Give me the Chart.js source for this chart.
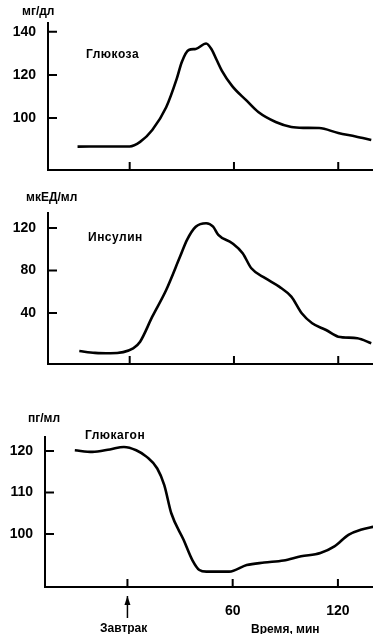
<!DOCTYPE html>
<html>
<head>
<meta charset="UTF-8" />
<title>Глюкоза, инсулин, глюкагон</title>
<script src="https://cdn.jsdelivr.net/npm/chart.js@4.4.1/dist/chart.umd.min.js"></script>
<style>
  body { margin:0; background:#fff; }
  #wrap { position:relative; width:373px; height:634px; overflow:hidden; font-family:"Liberation Sans", Arial, sans-serif; color:#000; }
  canvas { position:absolute; left:0; }
  .lbl { position:absolute; font-weight:bold; font-size:12px; white-space:nowrap; line-height:1; }
  .name { letter-spacing:0.5px; }
</style>
</head>
<body>
<div id="wrap">
  <canvas id="c1" width="373" height="190" style="top:0"></canvas>
  <canvas id="c2" width="373" height="190" style="top:190px"></canvas>
  <canvas id="c3" width="373" height="244" style="top:390px"></canvas>

  <div class="lbl" style="left:22px;top:5px">мг/дл</div>
  <div class="lbl" style="left:26px;top:191px">мкЕД/мл</div>
  <div class="lbl" style="left:28px;top:412px">пг/мл</div>

  <div class="lbl name" style="left:86px;top:48px">Глюкоза</div>
  <div class="lbl name" style="left:88px;top:231px">Инсулин</div>
  <div class="lbl name" style="left:85px;top:429px">Глюкагон</div>

  <div class="lbl" style="left:100px;top:622px">Завтрак</div>
  <div class="lbl" style="left:251px;top:623px">Время, мин</div>
</div>

<script>
// time, min (0 = breakfast)
const glucoseT = [-30,-10,0,6,13,21,27,30,34,38,44,47,50,53,59,67,74,84,93,100,109,120,130,139];
const glucoseV = [86.8,86.9,86.9,89,94.5,105,118,126,131.5,132,134.5,132,127,122,114.8,108.3,102.8,98.2,95.9,95.5,95.4,93.1,91.5,89.9];

const insulinT = [-29,-20,-11,2,6,13,21,29,33,38,44,48,51,59,65,70,78,86,93,99,105,113,120,131,139];
const insulinV = [4.2,2.5,2.1,6.8,13,36.5,61.6,93,108.7,121,124.4,121.2,113.4,105.6,96.2,82,72.7,64.8,55.3,39.7,30.3,24,17.7,16.2,11.5];

const glucagonT = [-30,-20,-10,-2,5,11,17,21,25,32,37,41,45,58,68,78,89,99,110,118,126,133,141];
const glucagonV = [120.2,119.8,120.4,121,120.2,118.6,115.8,111.8,105,98.6,93.7,91.3,90.9,90.9,92.5,93.1,93.6,94.6,95.4,97,99.8,101,101.8];

const xTicks = [0, 60, 120];
const xLabels = [60, 120];
const glucoseTicks = [100, 120, 140];
const insulinTicks = [40, 80, 120];
const glucagonTicks = [100, 110, 120];

const tickFont = { family: '"Liberation Sans", Arial, sans-serif', size: 14, weight: 'bold' };

// short tick marks drawn inside the plot area
const innerTicks = {
  id: 'innerTicks',
  afterDraw(chart, args, opts) {
    const { ctx, chartArea, scales } = chart;
    ctx.save();
    ctx.strokeStyle = '#000';
    ctx.lineWidth = 2;
    ctx.beginPath();
    xTicks.forEach(v => {
      const px = scales.x.getPixelForValue(v);
      ctx.moveTo(px, chartArea.bottom);
      ctx.lineTo(px, chartArea.bottom - 8);
    });
    opts.yTicks.forEach(v => {
      const py = scales.y.getPixelForValue(v);
      ctx.moveTo(chartArea.left, py);
      ctx.lineTo(chartArea.left + 9, py);
    });
    ctx.stroke();
    if (opts.arrow) {
      const px = scales.x.getPixelForValue(0);
      const top = chartArea.bottom + 9;
      ctx.lineWidth = 1.5;
      ctx.beginPath();
      ctx.moveTo(px, top + 22);
      ctx.lineTo(px, top);
      ctx.stroke();
      ctx.fillStyle = '#000';
      ctx.beginPath();
      ctx.moveTo(px, top);
      ctx.lineTo(px - 3, top + 9);
      ctx.lineTo(px + 3, top + 9);
      ctx.closePath();
      ctx.fill();
    }
    ctx.restore();
  }
};

function makeChart(id, t, v, yMin, yMax, yTicks, yWidth, padTop, xHeight, showX) {
  return new Chart(document.getElementById(id), {
    type: 'line',
    data: {
      datasets: [{
        data: t.map((x, i) => ({ x: x, y: v[i] })),
        borderColor: '#000',
        borderWidth: 2.6,
        pointRadius: 0,
        tension: 0.4,
        cubicInterpolationMode: 'monotone',
        fill: false
      }]
    },
    options: {
      responsive: false,
      animation: false,
      layout: { padding: { top: padTop, left: 0, right: 0, bottom: 0 } },
      plugins: {
        legend: { display: false },
        tooltip: { enabled: false },
        innerTicks: { yTicks: yTicks, arrow: showX }
      },
      scales: {
        x: {
          type: 'linear',
          min: -47,
          max: 140,
          grid: { display: false },
          border: { display: true, color: '#000', width: 2 },
          afterBuildTicks: s => { s.ticks = xLabels.map(x => ({ value: x })); },
          afterFit: s => { s.height = xHeight; },
          ticks: { display: showX, color: '#000', font: tickFont, padding: 8, maxRotation: 0 }
        },
        y: {
          min: yMin,
          max: yMax,
          grid: { display: false },
          border: { display: true, color: '#000', width: 2 },
          afterBuildTicks: s => { s.ticks = yTicks.map(x => ({ value: x })); },
          afterFit: s => { s.width = yWidth; },
          ticks: { color: '#000', font: tickFont, padding: 4 }
        }
      }
    },
    plugins: [innerTicks]
  });
}

makeChart('c1', glucoseT, glucoseV, 76, 144, glucoseTicks, 48, 23, 20, false);
makeChart('c2', insulinT, insulinV, -8, 134, insulinTicks, 48, 23, 16, false);
makeChart('c3', glucagonT, glucagonV, 87.2, 123.4, glucagonTicks, 45, 47, 47, true);
</script>
</body>
</html>
